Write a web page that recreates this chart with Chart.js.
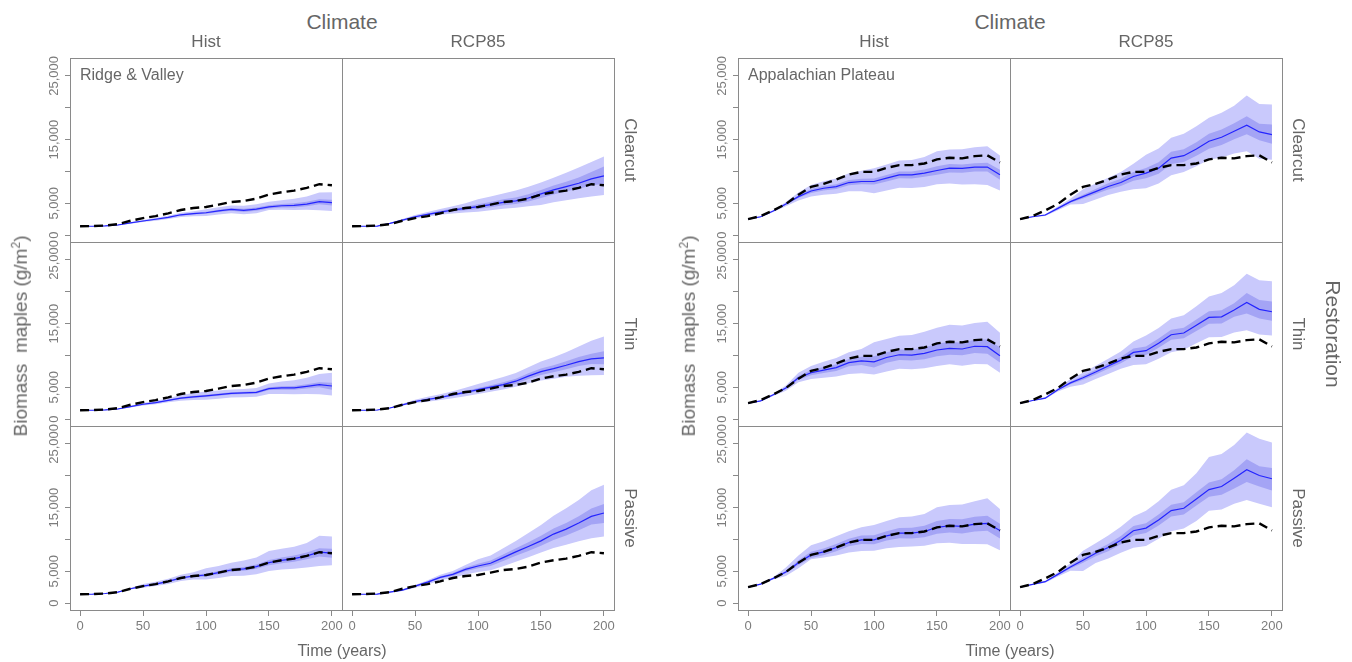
<!DOCTYPE html>
<html>
<head>
<meta charset="utf-8">
<script src="https://cdn.jsdelivr.net/npm/chart.js"></script>
<style>
  html, body { margin: 0; padding: 0; background: #fff; }
  #wrap { position: relative; width: 1352px; height: 662px; overflow: hidden; font-family: "Liberation Sans", Arial, sans-serif; }
  #wrap canvas { position: absolute; }
  .lbl { position: absolute; white-space: nowrap; color: #666; line-height: 1; }
</style>
</head>
<body>
<div id="wrap"></div>
<script>
// time axis (years) and axis ticks
const years = [0, 10, 20, 30, 40, 50, 60, 70, 80, 90, 100, 110, 120, 130, 140, 150, 160, 170, 180, 190, 200];
const xTicks = [0, 50, 100, 150, 200];
const yTicks = [0, 5000, 10000, 15000, 20000, 25000];
const yTickLabels = ["0", "5,000", "", "15,000", "", "25,000"];
const climates = ["Hist", "RCP85"];
const treatments = ["Clearcut", "Thin", "Passive"];

// ---- Ridge & Valley ----
// reference run (Hist / Passive mean), dashed in every panel
const rvBase = [1400,1420,1520,1740,2260,2680,3000,3420,3950,4260,4420,4790,5210,5370,5730,6370,6730,7000,7420,8000,7840];

const rvClearHistMean = [1400,1400,1450,1600,1920,2220,2500,2790,3200,3380,3520,3820,4050,3900,4100,4450,4620,4680,4880,5250,5100];
const rvClearHistHi95 = [1420,1430,1490,1680,2040,2400,2720,3060,3520,3760,4050,4400,4650,4600,4850,5250,5500,5700,6050,6700,6730];
const rvClearHistLo95 = [1380,1370,1410,1520,1800,2050,2280,2520,2850,2980,3000,3250,3450,3300,3450,3950,4000,3950,4000,3900,3790];
const rvClearHistHi50 = [1405,1410,1465,1630,1970,2280,2580,2880,3310,3510,3680,4000,4250,4150,4360,4700,4900,5000,5230,5650,5550];
const rvClearHistLo50 = [1395,1390,1435,1570,1870,2160,2420,2700,3090,3250,3360,3640,3850,3650,3840,4200,4340,4360,4530,4850,4650];

const rvClearRcpMean = [1400,1400,1430,1840,2350,2890,3270,3630,3950,4200,4470,4800,5150,5370,5840,6470,7100,7630,8150,8840,9310];
const rvClearRcpHi95 = [1420,1430,1480,1930,2520,3160,3650,4100,4550,5000,5630,6050,6550,7000,7600,8260,9000,9800,10600,11500,12360];
const rvClearRcpLo95 = [1380,1370,1390,1760,2200,2630,2920,3200,3400,3550,3680,3900,4150,4300,4550,4730,5150,5500,5800,6050,6310];
const rvClearRcpHi50 = [1408,1410,1450,1870,2420,3000,3420,3820,4180,4480,4850,5220,5620,5900,6420,7100,7800,8400,9050,9900,10780];
const rvClearRcpLo50 = [1392,1390,1410,1810,2290,2790,3130,3450,3730,3920,4100,4400,4700,4880,5280,5850,6400,6880,7300,7800,8050];

const rvThinHistMean = [1400,1400,1450,1600,1980,2340,2600,2950,3300,3500,3670,3850,4040,4120,4200,4790,4900,4900,5160,5430,5210];
const rvThinHistHi95 = [1420,1430,1500,1680,2120,2550,2880,3300,3800,4100,4360,4500,4650,4750,4900,5590,5900,6100,6500,7100,7290];
const rvThinHistLo95 = [1380,1370,1400,1530,1850,2150,2360,2650,2900,3000,3030,3200,3400,3450,3500,3940,3950,3900,3950,3900,3720];
const rvThinHistHi50 = [1405,1410,1470,1630,2030,2410,2690,3060,3440,3670,3850,4030,4220,4300,4400,5020,5170,5200,5500,5800,5700];
const rvThinHistLo50 = [1395,1390,1430,1570,1930,2270,2510,2840,3160,3330,3490,3670,3860,3940,4000,4560,4630,4600,4820,5000,4630];

const rvThinRcpMean = [1400,1400,1440,1750,2250,2770,3100,3400,3800,4200,4630,5030,5430,5960,6760,7450,7930,8460,9040,9470,9630];
const rvThinRcpHi95 = [1420,1430,1490,1850,2420,3050,3500,3900,4400,4950,5530,6050,6600,7250,8150,9040,9700,10500,11400,12300,12980];
const rvThinRcpLo95 = [1380,1370,1390,1660,2100,2520,2750,3000,3300,3600,3940,4300,4650,5100,5650,6060,6350,6650,6800,6900,6920];
const rvThinRcpHi50 = [1408,1410,1460,1790,2310,2870,3230,3560,3980,4420,4880,5330,5780,6350,7200,7950,8480,9080,9750,10250,10640];
const rvThinRcpLo50 = [1392,1390,1420,1710,2190,2670,2970,3240,3620,3980,4380,4730,5080,5570,6320,6950,7380,7850,8350,8650,8620];

const rvPassHistMean = [1400,1420,1520,1740,2260,2680,3000,3420,3950,4260,4420,4790,5210,5370,5730,6370,6730,7000,7420,8000,7840];
const rvPassHistHi95 = [1420,1440,1560,1800,2380,3000,3350,3850,4450,4850,5470,5850,6350,6700,7150,8200,8550,8850,9450,10570,10470];
const rvPassHistLo95 = [1380,1400,1480,1680,2130,2420,2680,3020,3480,3720,3730,3950,4250,4300,4550,5050,5300,5400,5600,5840,5940];
const rvPassHistHi50 = [1405,1425,1535,1770,2310,2760,3100,3550,4100,4440,4640,5030,5480,5660,6060,6790,7180,7480,7940,8630,8550];
const rvPassHistLo50 = [1395,1415,1505,1710,2210,2600,2900,3290,3800,4080,4200,4550,4940,5080,5400,5950,6280,6520,6900,7310,7130];

const rvPassRcpMean = [1400,1400,1430,1740,2050,2680,3310,4050,4520,5310,5840,6260,7150,8050,8890,9780,10840,11620,12570,13620,14150];
const rvPassRcpHi95 = [1420,1430,1480,1820,2200,2860,3600,4450,5050,6000,6890,7500,8600,9750,11000,12260,13700,14900,16200,17700,18570];
const rvPassRcpLo95 = [1380,1370,1390,1660,1920,2420,2950,3600,3950,4500,4890,5150,5800,6500,7200,7940,8650,9150,9700,10200,10470];
const rvPassRcpHi50 = [1408,1410,1450,1780,2120,2760,3430,4220,4740,5600,6190,6680,7650,8620,9560,10570,11720,12600,13650,14850,15570];
const rvPassRcpLo50 = [1392,1390,1410,1700,1980,2600,3180,3870,4300,5010,5470,5820,6620,7450,8200,9000,9920,10620,11450,12350,12570];

// ---- Appalachian Plateau ----
const apBase = [2520,3000,3890,4890,6360,7570,8050,8730,9520,9940,9940,10570,10990,10990,11250,11890,12150,12050,12410,12520,11400];

const apClearHistMean = [2520,2890,3790,4890,6050,6940,7360,7630,8260,8420,8420,8940,9470,9470,9730,10150,10520,10470,10680,10680,9470];
const apClearHistHi95 = [2560,2960,3950,5200,6700,7890,8450,8900,9700,10100,10520,11100,11700,11800,12250,13150,13450,13500,13800,13940,12520];
const apClearHistLo95 = [2480,2820,3620,4550,5450,6050,6350,6500,6900,6900,6580,7000,7450,7400,7550,7990,8100,7950,8000,7890,7000];
const apClearHistHi50 = [2530,2910,3840,4990,6250,7250,7700,8000,8650,8850,8900,9450,10000,10000,10300,10800,11150,11100,11300,11350,10260];
const apClearHistLo50 = [2510,2870,3740,4790,5850,6630,7020,7250,7850,7980,7950,8430,8940,8900,9150,9500,9850,9800,10000,9980,8680];

const apClearRcpMean = [2520,2890,3160,4210,5260,6050,6840,7630,8260,9200,9730,10520,12100,12470,13520,14730,15360,16310,17250,16200,15780];
const apClearRcpHi95 = [2560,2960,3300,4500,5700,7210,8100,9000,9900,11200,12620,13600,15300,15900,17100,18410,19200,20300,21930,20600,20510];
const apClearRcpLo95 = [2480,2820,3020,3900,4800,4890,5600,6300,6800,7200,7360,8100,9400,9900,10800,11840,12200,12800,13150,12000,11840];
const apClearRcpHi50 = [2530,2910,3200,4300,5420,6350,7250,8150,8850,9900,10550,11450,13100,13500,14600,15900,16600,17550,18670,17500,17360];
const apClearRcpLo50 = [2510,2870,3120,4120,5100,5750,6450,7150,7700,8550,8950,9650,11150,11500,12450,13550,14150,15050,15850,14900,14360];

const apThinHistMean = [2500,2870,3830,4890,6490,7290,7710,8090,8880,9150,8990,9680,10110,10050,10320,10850,11120,11010,11440,11380,9940];
const apThinHistHi95 = [2540,2950,4000,5300,7300,8350,9000,9600,10500,11000,12080,12600,13100,13200,13700,14360,14800,14700,15100,15270,13570];
const apThinHistLo95 = [2460,2790,3650,4450,5800,6300,6500,6700,7100,7200,7020,7500,7900,7850,8000,8350,8600,8400,8650,8620,7290];
const apThinHistHi50 = [2510,2900,3900,5050,6780,7700,8180,8620,9460,9800,9870,10520,10950,10900,11230,11830,12130,12000,12480,12500,11280];
const apThinHistLo50 = [2490,2840,3760,4730,6200,6880,7240,7560,8300,8500,8110,8840,9270,9200,9410,9870,10110,10020,10400,10260,8880];

const apThinRcpMean = [2500,2930,3300,4630,5690,6490,7390,8350,9260,10480,10750,11920,13250,13520,14740,15960,16060,17130,18300,17240,16860];
const apThinRcpHi95 = [2540,3000,3450,4900,6300,7290,8400,9500,10600,12200,13140,14300,15800,16300,17700,19260,19800,21000,22820,21800,21650];
const apThinRcpLo95 = [2460,2860,3150,4350,5100,5430,6300,7100,7900,8500,8620,9500,10500,10900,11900,12870,12900,13600,13940,13300,13140];
const apThinRcpHi50 = [2510,2950,3350,4720,5880,6800,7760,8790,9760,11080,11420,12650,14050,14350,15650,16950,17100,18200,19790,18700,18460];
const apThinRcpLo50 = [2490,2910,3250,4540,5500,6180,7020,7910,8760,9880,10080,11190,12450,12690,13830,14970,15020,16060,16600,15780,15430];

const apPassHistMean = [2520,3000,3890,4890,6360,7570,8050,8730,9520,9940,9940,10570,10990,10990,11250,11890,12150,12050,12410,12520,11400];
const apPassHistHi95 = [2560,3080,4080,5580,7500,9100,9700,10500,11300,11900,12260,12900,13500,13600,14000,15040,15400,15500,16000,16460,14780];
const apPassHistLo95 = [2480,2920,3700,4260,5500,6890,7150,7500,7950,8200,8210,8600,8800,8900,9000,9420,9500,9300,9300,9260,8310];
const apPassHistHi50 = [2530,3030,3960,5100,6750,8050,8580,9300,10100,10600,10650,11300,11800,11850,12150,12900,13200,13150,13550,13700,12450];
const apPassHistLo50 = [2510,2970,3820,4680,5980,7100,7520,8150,8920,9300,9250,9850,10200,10150,10350,10900,11100,10950,11250,11350,10150];

const apPassRcpMean = [2520,2950,3370,4520,5680,6730,7840,8730,9890,11360,11780,13050,14520,14890,16360,17830,18310,19620,20940,20040,19520];
const apPassRcpHi95 = [2560,3020,3520,4850,6250,8210,9400,10600,12000,13600,14520,16000,17800,18500,20400,22930,23400,24800,26770,25800,25200];
const apPassRcpLo95 = [2480,2880,3220,4200,5100,5050,6300,7000,7900,8700,8990,10100,11300,11700,12900,14520,14700,15600,16200,15600,15040];
const apPassRcpHi50 = [2510,2970,3430,4650,5900,7120,8300,9300,10550,12100,12550,13900,15450,15850,17400,18950,19450,20850,22570,21500,21200];
const apPassRcpLo50 = [2490,2930,3310,4390,5460,6340,7380,8160,9230,10620,11010,12200,13590,13930,15320,16710,17000,18000,19000,18300,17670];

// panel grid: rows = treatments, cols = climates
const regions = [
  {
    name: "Ridge & Valley", dx: 0, base: rvBase,
    panels: [
      [[rvClearHistMean, rvClearHistHi50, rvClearHistLo50, rvClearHistHi95, rvClearHistLo95],
       [rvClearRcpMean, rvClearRcpHi50, rvClearRcpLo50, rvClearRcpHi95, rvClearRcpLo95]],
      [[rvThinHistMean, rvThinHistHi50, rvThinHistLo50, rvThinHistHi95, rvThinHistLo95],
       [rvThinRcpMean, rvThinRcpHi50, rvThinRcpLo50, rvThinRcpHi95, rvThinRcpLo95]],
      [[rvPassHistMean, rvPassHistHi50, rvPassHistLo50, rvPassHistHi95, rvPassHistLo95],
       [rvPassRcpMean, rvPassRcpHi50, rvPassRcpLo50, rvPassRcpHi95, rvPassRcpLo95]]
    ]
  },
  {
    name: "Appalachian Plateau", dx: 668, base: apBase,
    panels: [
      [[apClearHistMean, apClearHistHi50, apClearHistLo50, apClearHistHi95, apClearHistLo95],
       [apClearRcpMean, apClearRcpHi50, apClearRcpLo50, apClearRcpHi95, apClearRcpLo95]],
      [[apThinHistMean, apThinHistHi50, apThinHistLo50, apThinHistHi95, apThinHistLo95],
       [apThinRcpMean, apThinRcpHi50, apThinRcpLo50, apThinRcpHi95, apThinRcpLo95]],
      [[apPassHistMean, apPassHistHi50, apPassHistLo50, apPassHistHi95, apPassHistLo95],
       [apPassRcpMean, apPassRcpHi50, apPassRcpLo50, apPassRcpHi95, apPassRcpLo95]]
    ]
  }
];

const FONT = "'Liberation Sans', Arial, sans-serif";
const GREY = "#8a8a8a";
const TICK_TEXT = "#7c7c7c";

// panel frame geometry (left figure; right figure is shifted by dx)
const colLeft = [70, 342];
const rowTop = [58, 242, 426];
const PW = 272, PH = 184;
const AXIS_W = 60, AXIS_H = 34, PAD = 12;

Chart.defaults.font.family = FONT;
Chart.defaults.elements.point.radius = 0;

const wrap = document.getElementById("wrap");

// box around every panel
const framePlugin = {
  id: "frame",
  afterDatasetsDraw(chart) {
    const { ctx, chartArea: a } = chart;
    ctx.save();
    ctx.strokeStyle = GREY;
    ctx.lineWidth = 1;
    ctx.strokeRect(Math.round(a.left) + 0.5, Math.round(a.top) + 0.5, Math.round(a.right - a.left), Math.round(a.bottom - a.top));
    ctx.restore();
  }
};

function series(vals) {
  return years.map((t, i) => ({ x: t, y: vals[i] }));
}

function label(text, x, y, size, rot, align) {
  const d = document.createElement("div");
  d.className = "lbl";
  d.innerHTML = text;
  d.style.fontSize = size + "px";
  d.style.left = x + "px";
  d.style.top = y + "px";
  const tx = align === "left" ? "0" : "-50%";
  d.style.transform = "translate(" + tx + ",-50%)" + (rot ? " rotate(" + rot + "deg)" : "");
  d.style.transformOrigin = align === "left" ? "0 50%" : "50% 50%";
  wrap.appendChild(d);
}

function drawPanel(region, r, c) {
  const [mean, hi50, lo50, hi95, lo95] = region.panels[r][c];
  const first = c === 0, bottom = r === 2;
  const padL = first ? AXIS_W : PAD;
  const padB = bottom ? AXIS_H : PAD;

  const cv = document.createElement("canvas");
  const w = PW + padL + PAD, h = PH + PAD + padB;
  cv.width = w; cv.height = h;
  cv.style.width = w + "px"; cv.style.height = h + "px";
  cv.style.left = (colLeft[c] + region.dx - padL) + "px";
  cv.style.top = (rowTop[r] - PAD) + "px";
  wrap.appendChild(cv);

  new Chart(cv.getContext("2d"), {
    type: "line",
    data: {
      datasets: [
        { data: series(region.base), borderColor: "#000", borderWidth: 2.4, borderDash: [9, 5], order: 0 },
        { data: series(mean), borderColor: "#2424ff", borderWidth: 1.2, order: 1 },
        { data: series(hi50), borderWidth: 0, borderColor: "transparent", backgroundColor: "#a4a4f5", fill: 3, order: 2 },
        { data: series(lo50), borderWidth: 0, borderColor: "transparent", order: 2 },
        { data: series(hi95), borderWidth: 0, borderColor: "transparent", backgroundColor: "#c9c9fc", fill: 5, order: 3 },
        { data: series(lo95), borderWidth: 0, borderColor: "transparent", order: 3 }
      ]
    },
    options: {
      responsive: false,
      animation: false,
      devicePixelRatio: 1,
      elements: { line: { tension: 0 } },
      layout: { padding: { top: PAD, right: PAD, bottom: bottom ? 0 : PAD, left: first ? 0 : PAD } },
      plugins: { legend: { display: false }, tooltip: { enabled: false } },
      scales: {
        x: {
          type: "linear", min: -8, max: 208, bounds: "data",
          display: bottom,
          afterBuildTicks: s => { s.ticks = xTicks.map(v => ({ value: v })); },
          afterFit: s => { s.height = bottom ? AXIS_H : 0; },
          ticks: { color: TICK_TEXT, font: { size: 13 }, padding: 3, maxRotation: 0, autoSkip: false },
          grid: { drawOnChartArea: false, tickLength: 6, color: GREY },
          border: { display: false }
        },
        y: {
          type: "linear", min: -1070, max: 27800, bounds: "data",
          display: first,
          afterBuildTicks: s => { s.ticks = yTicks.map(v => ({ value: v })); },
          afterFit: s => { s.width = first ? AXIS_W : 0; },
          ticks: {
            color: TICK_TEXT, font: { size: 13 }, padding: -9, autoSkip: false,
            minRotation: 90, maxRotation: 90, crossAlign: "center",
            callback: (v, i) => yTickLabels[i]
          },
          grid: { drawOnChartArea: false, tickLength: 5, color: GREY },
          border: { display: false }
        }
      }
    },
    plugins: [framePlugin]
  });
}

regions.forEach(region => {
  for (let r = 0; r < 3; r++) for (let c = 0; c < 2; c++) drawPanel(region, r, c);

  const dx = region.dx;
  label("Climate", 342 + dx, 21, 21);
  climates.forEach((name, c) => label(name, colLeft[c] + PW / 2 + dx, 41, 17));
  treatments.forEach((name, r) => label(name, 630 + dx, rowTop[r] + PH / 2, 17, 90));
  label("Biomass&nbsp; maples (g/m<sup style=\"font-size:12px\">2</sup>)", 20 + dx, 336, 19, -90);
  label("Time (years)", 342 + dx, 651, 16);
  label(region.name, 80 + dx, 75, 16, 0, "left");
});

label("Restoration", 1333, 334, 21, 90);
</script>
</body>
</html>
